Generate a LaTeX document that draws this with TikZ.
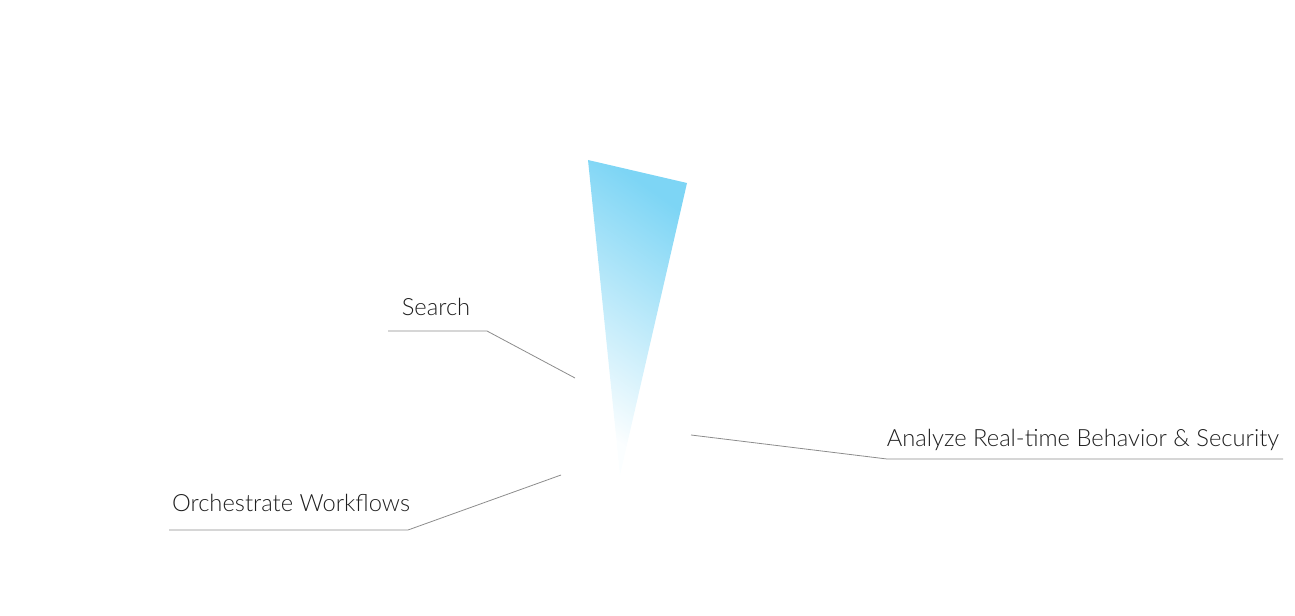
\documentclass[tikz,border=0pt]{standalone}
\usepackage{fontspec}
\setmainfont{Lato}[UprightFont=* Light]
\definecolor{wedgeblue}{RGB}{125, 213, 245}
\definecolor{leadgray}{RGB}{140, 140, 140}
\definecolor{labeltext}{RGB}{30, 30, 30}
\usetikzlibrary{positioning, calc}
\tikzset{
  label text/.style={text=labeltext, font=\fontsize{17.8}{21}\selectfont, inner sep=0pt, anchor=base},
  leader/.style={draw=leadgray, line width=0.6pt}
}

\begin{document}
\begin{tikzpicture}[x=0.75pt, y=-0.75pt]
  \useasboundingbox (0,0) rectangle (1295,616);

  % the wedge
  \shade[top color=wedgeblue, middle color=wedgeblue!60, bottom color=wedgeblue!3, shading angle=-35]
    (588,160) -- (687,183) -- (620,475) -- cycle;

  % labels
  \node[label text] (search) at (436,316) {Search};
  \node[label text] (orch) at (291,511) {Orchestrate Workflows};
  \node[label text] (analyze) at (1083,446) {Analyze Real-time Behavior \& Security};

  % leader ends
  \coordinate (searchL) at (388,331);
  \coordinate (searchR) at (487,331);
  \coordinate (searchTip) at (575,378);
  \coordinate (orchL) at (169,530);
  \coordinate (orchR) at (408,530);
  \coordinate (orchTip) at (561,475);
  \coordinate (analyzeL) at (887,459);
  \coordinate (analyzeR) at (1283,459);
  \coordinate (analyzeTip) at (691,435);

  \draw[leader] (searchL) -- (searchR) -- (searchTip);
  \draw[leader] (orchL) -- (orchR) -- (orchTip);
  \draw[leader] (analyzeR) -- (analyzeL) -- (analyzeTip);
\end{tikzpicture}
\end{document}
